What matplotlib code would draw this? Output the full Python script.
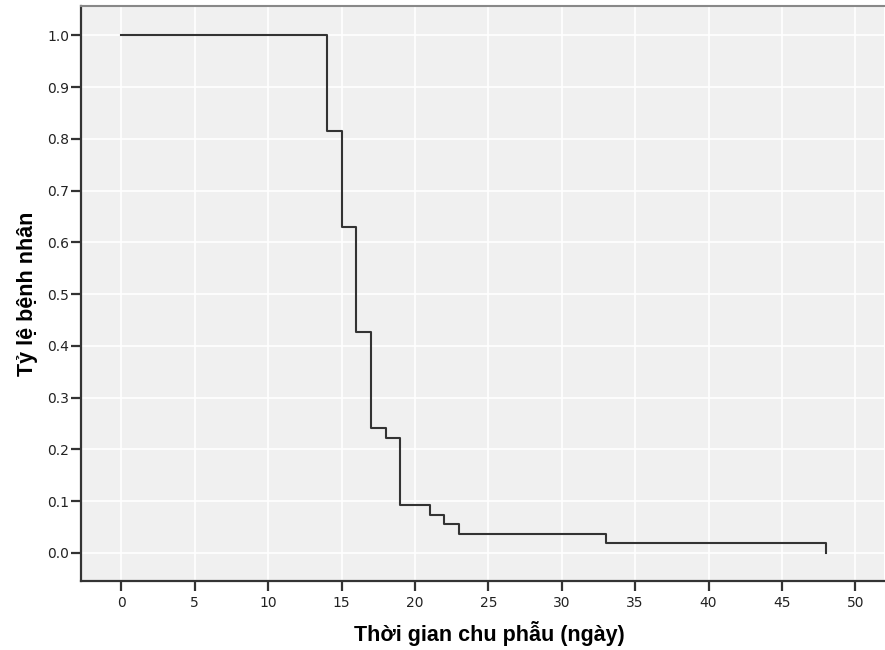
import matplotlib
matplotlib.use("Agg")
import matplotlib.pyplot as plt

# Kaplan-Meier step data
times = [0, 14, 15, 16, 17, 18, 19, 21, 22, 23, 33, 48]
survival = [1.0, 0.815, 0.630, 0.426, 0.241, 0.222, 0.093, 0.074, 0.056, 0.037, 0.0185, 0.0]
x_ticks = [0, 5, 10, 15, 20, 25, 30, 35, 40, 45, 50]
y_ticks = [0.0, 0.1, 0.2, 0.3, 0.4, 0.5, 0.6, 0.7, 0.8, 0.9, 1.0]
x_label = "Thời gian chu phẫu (ngày)"
y_label = "Tỷ lệ bệnh nhân"

fig = plt.figure(figsize=(8.85, 6.5), dpi=100)
ax = fig.add_axes([81/885, 69/650, 803/885, 575/650])
ax.set_facecolor("#f0f0f0")

ax.plot(times, survival, drawstyle="steps-post", color="#333333", lw=1.5)

ax.set_xlim(-2.745, 51.95)
ax.set_ylim(-0.0545, 1.057)
ax.set_xticks(x_ticks)
ax.set_yticks(y_ticks)
ax.set_xticklabels([str(t) for t in x_ticks], fontsize=10, family="DejaVu Sans", color="#222222")
ax.set_yticklabels([f"{t:.1f}" for t in y_ticks], fontsize=10, family="DejaVu Sans", color="#222222")
ax.grid(True, color="white", lw=1.2)
ax.set_axisbelow(True)
ax.tick_params(direction="out", length=7, width=1.6, color="#333333")
ax.tick_params(axis="x", pad=4)
ax.tick_params(axis="y", pad=1.5)

for s in ["left", "bottom"]:
    ax.spines[s].set_color("#333333")
    ax.spines[s].set_linewidth(1.6)
ax.spines["top"].set_color("#888888")
ax.spines["top"].set_linewidth(1.5)
ax.spines["right"].set_visible(False)

ax.set_xlabel(x_label, fontsize=15.5, fontweight="bold", family="Liberation Sans")
ax.set_ylabel(y_label, fontsize=15.5, fontweight="bold", family="Liberation Sans")
ax.xaxis.set_label_coords(0.508, -0.07)
ax.yaxis.set_label_coords(-0.054, 0.5)

fig.savefig("out.png", dpi=100)
